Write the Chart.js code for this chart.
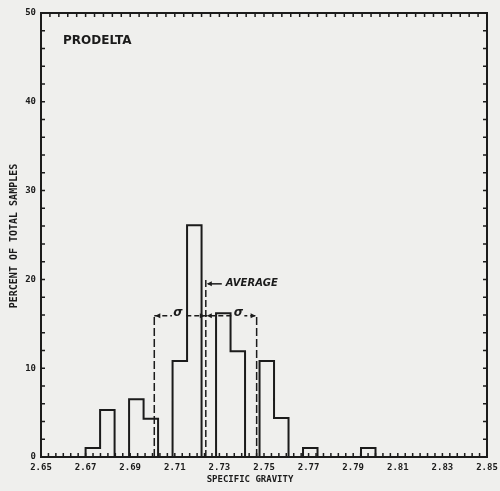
<!DOCTYPE html>
<html>
<head>
<meta charset="utf-8">
<script src="https://cdn.jsdelivr.net/npm/chart.js@4.4.0/dist/chart.umd.min.js"></script>
<style>
  html, body { margin: 0; padding: 0; background: #efefed; }
  canvas { display: block; }
</style>
</head>
<body>
<canvas id="gravityChart" width="500" height="491"></canvas>
<script>
// histogram bins (specific gravity) and percent of total samples
const binEdges = [2.6700, 2.6765, 2.6830, 2.6895, 2.6960, 2.7025, 2.7090, 2.7155, 2.7220, 2.7285, 2.7350,
                  2.7415, 2.7480, 2.7545, 2.7610, 2.7675, 2.7740, 2.7805, 2.7870, 2.7935, 2.8000];
const percentOfSamples = [1.0, 5.3, 0, 6.5, 4.3, 0, 10.8, 26.1, 0, 16.2,
                          11.9, 0, 10.8, 4.4, 0, 1.0, 0, 0, 0, 1.0];

const xTickLabels = ['2.65', '2.67', '2.69', '2.71', '2.73', '2.75', '2.77', '2.79', '2.81', '2.83', '2.85'];
const yTickLabels = ['0', '10', '20', '30', '40', '50'];

// average and +/- one sigma markers
const average = 2.7239;
const averageTop = 20.0;
const averageLabelLevel = 19.5;
const sigmaBounds = [2.7008, 2.7467];
const sigmaLevel = 15.9;
const sigmaLabelAt = [2.7114, 2.7385];

const ink = '#1b1b1b';
const paper = '#efefed';

// outline of the histogram as one stepped line
const outline = [{ x: binEdges[0], y: 0 }];
percentOfSamples.forEach((p, i) => outline.push({ x: binEdges[i + 1], y: p }));
outline.push({ x: binEdges[binEdges.length - 1], y: 0 });

const arrowHead = (ctx, x, y, dir) => {
  ctx.beginPath();
  ctx.moveTo(x, y);
  ctx.lineTo(x - dir * 5, y - 2.5);
  ctx.lineTo(x - dir * 5, y + 2.5);
  ctx.closePath();
  ctx.fill();
};

const decorations = {
  id: 'decorations',
  afterDraw(chart) {
    const { ctx, chartArea: a, scales: { x, y } } = chart;
    ctx.save();
    ctx.strokeStyle = ink;
    ctx.fillStyle = ink;

    // frame
    ctx.lineWidth = 2;
    ctx.strokeRect(a.left, a.top, a.right - a.left, a.bottom - a.top);

    // inward tick marks
    ctx.lineWidth = 1.5;
    ctx.beginPath();
    for (let v = 0; v <= 50; v += 2) {
      const py = y.getPixelForValue(v);
      ctx.moveTo(a.left, py); ctx.lineTo(a.left + 4, py);
      ctx.moveTo(a.right, py); ctx.lineTo(a.right - 4, py);
    }
    for (let i = 0; i <= 60; i++) {
      const px = x.getPixelForValue(2.65 + i * 0.2 / 60);
      ctx.moveTo(px, a.bottom); ctx.lineTo(px, a.bottom - 4);
    }
    for (let i = 0; i <= 50; i++) {
      const px = x.getPixelForValue(2.65 + i * 0.004);
      ctx.moveTo(px, a.top); ctx.lineTo(px, a.top + 4);
    }
    ctx.stroke();

    // sigma labels sitting on the dimension line
    ctx.font = 'bold italic 12px "DejaVu Sans"';
    ctx.textAlign = 'center';
    ctx.textBaseline = 'middle';
    const sy = y.getPixelForValue(sigmaLevel);
    sigmaLabelAt.forEach(v => {
      const px = x.getPixelForValue(v);
      ctx.fillStyle = paper;
      ctx.fillRect(px - 6, sy - 7, 12, 10);
      ctx.fillStyle = ink;
      ctx.fillText('σ', px, sy - 3);
    });

    // arrowheads of the sigma dimension lines
    const xl = x.getPixelForValue(sigmaBounds[0]);
    const xa = x.getPixelForValue(average);
    const xh = x.getPixelForValue(sigmaBounds[1]);
    arrowHead(ctx, xl + 1, sy, -1);
    arrowHead(ctx, xa - 1, sy, 1);
    arrowHead(ctx, xa + 1, sy, -1);
    arrowHead(ctx, xh - 1, sy, 1);

    // average label
    const ay = y.getPixelForValue(averageLabelLevel);
    ctx.lineWidth = 1.5;
    ctx.beginPath();
    ctx.moveTo(xa + 2, ay); ctx.lineTo(xa + 16, ay);
    ctx.stroke();
    arrowHead(ctx, xa + 1, ay, -1);
    ctx.font = 'bold italic 10px "DejaVu Sans"';
    ctx.textAlign = 'left';
    ctx.fillText('AVERAGE', xa + 20, ay);

    // panel name
    ctx.font = 'bold 12px "DejaVu Sans"';
    ctx.textBaseline = 'top';
    ctx.fillText('PRODELTA', 63, 35);

    // axis titles
    ctx.font = 'bold 9px "DejaVu Sans Mono"';
    ctx.textAlign = 'center';
    ctx.textBaseline = 'middle';
    ctx.fillText('SPECIFIC GRAVITY', 250, 480);
    ctx.translate(14, 236);
    ctx.rotate(-Math.PI / 2);
    ctx.font = 'bold 10px "DejaVu Sans Mono"';
    ctx.fillText('PERCENT OF TOTAL SAMPLES', 0, 0);
    ctx.restore();
  }
};

const dashed = (points, dash) => ({
  data: points,
  borderColor: ink,
  borderWidth: 1.5,
  borderDash: dash,
  pointRadius: 0,
  fill: false
});

const ctx = document.getElementById('gravityChart');
new Chart(ctx, {
  type: 'line',
  data: {
    datasets: [
      {
        data: outline,
        stepped: 'after',
        borderColor: ink,
        borderWidth: 2,
        pointRadius: 0,
        fill: false
      },
      dashed([{ x: average, y: 0 }, { x: average, y: averageTop }], [7, 3]),
      dashed([{ x: sigmaBounds[0], y: 0 }, { x: sigmaBounds[0], y: sigmaLevel }], [8, 3]),
      dashed([{ x: sigmaBounds[1], y: 0 }, { x: sigmaBounds[1], y: sigmaLevel }], [8, 3]),
      dashed([{ x: sigmaBounds[0], y: sigmaLevel }, { x: sigmaBounds[1], y: sigmaLevel }], [5, 3])
    ]
  },
  options: {
    responsive: false,
    animation: false,
    layout: { padding: { top: 13, right: 13 } },
    plugins: { legend: { display: false }, tooltip: { enabled: false } },
    scales: {
      x: {
        type: 'linear',
        min: 2.65,
        max: 2.85,
        grid: { display: false, drawTicks: false },
        border: { display: false },
        afterBuildTicks: s => { s.ticks = xTickLabels.map(t => ({ value: parseFloat(t) })); },
        afterFit: s => { s.height = 34; s.paddingLeft = 0; s.paddingRight = 0; },
        ticks: {
          autoSkip: false,
          maxRotation: 0,
          padding: 5,
          color: ink,
          font: { family: 'DejaVu Sans Mono', weight: 'bold', size: 9 },
          callback: v => v.toFixed(2)
        }
      },
      y: {
        min: 0,
        max: 50,
        grid: { display: false, drawTicks: false },
        border: { display: false },
        afterBuildTicks: s => { s.ticks = yTickLabels.map(t => ({ value: parseFloat(t) })); },
        afterFit: s => { s.width = 41; s.paddingTop = 0; s.paddingBottom = 0; },
        ticks: {
          padding: 5,
          color: ink,
          font: { family: 'DejaVu Sans Mono', weight: 'bold', size: 9 }
        }
      }
    }
  },
  plugins: [decorations]
});
</script>
</body>
</html>
